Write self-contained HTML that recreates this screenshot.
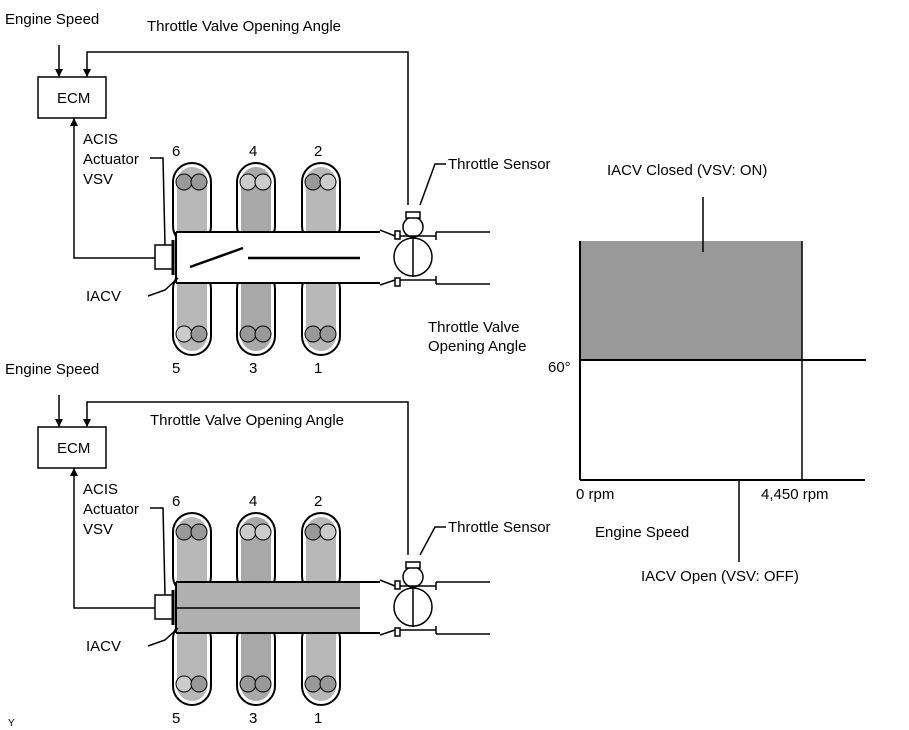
<!DOCTYPE html>
<html><head><meta charset="utf-8"><style>
body{margin:0;background:#fff}
svg{display:block}
text{font-family:"Liberation Sans",sans-serif;font-size:15px;fill:#000}
</style></head><body>
<svg width="909" height="730" viewBox="0 0 909 730" xmlns="http://www.w3.org/2000/svg">
<defs>
<marker id="ar" markerWidth="8" markerHeight="8" refX="8" refY="4" orient="auto" markerUnits="userSpaceOnUse">
<path d="M0,0 L8,4 L0,8 Z" fill="#000"/></marker>
<g id="runners">
<g stroke="#000" stroke-width="2" fill="#fff">
<rect x="173" y="163" width="38" height="82" rx="19"/>
<rect x="237" y="163" width="38" height="82" rx="19"/>
<rect x="302" y="163" width="38" height="82" rx="19"/>
<rect x="173" y="270" width="38" height="85" rx="19"/>
<rect x="237" y="270" width="38" height="85" rx="19"/>
<rect x="302" y="270" width="38" height="85" rx="19"/>
</g>
<g stroke="none">
<rect x="177" y="167" width="30" height="80" rx="15" fill="#b8b8b8"/>
<rect x="241" y="167" width="30" height="80" rx="15" fill="#a8a8a8"/>
<rect x="306" y="167" width="30" height="80" rx="15" fill="#b8b8b8"/>
<rect x="177" y="268" width="30" height="83" rx="15" fill="#b8b8b8"/>
<rect x="241" y="268" width="30" height="83" rx="15" fill="#a8a8a8"/>
<rect x="306" y="268" width="30" height="83" rx="15" fill="#b8b8b8"/>
</g>
<g fill="#999" stroke="#000" stroke-width="1">
<circle cx="184" cy="182" r="8"/><circle cx="199" cy="182" r="8"/>
<circle cx="248" cy="182" r="8" fill="#ccc"/><circle cx="263" cy="182" r="8" fill="#ccc"/>
<circle cx="313" cy="182" r="8"/><circle cx="328" cy="182" r="8" fill="#ccc"/>
<circle cx="184" cy="334" r="8" fill="#ccc"/><circle cx="199" cy="334" r="8"/>
<circle cx="248" cy="334" r="8"/><circle cx="263" cy="334" r="8"/>
<circle cx="313" cy="334" r="8"/><circle cx="328" cy="334" r="8"/>
</g>
</g>
<g id="throttle" stroke="#000" stroke-width="1.5" fill="none">
<path d="M380,230 L395,236 M380,285 L395,280"/>
<rect x="395" y="231" width="5" height="8"/><rect x="395" y="278" width="5" height="8"/>
<circle cx="413" cy="257" r="19" fill="#fff"/>
<line x1="413" y1="237" x2="413" y2="277"/>
<circle cx="413" cy="227" r="10" fill="#fff"/>
<rect x="406" y="212" width="14" height="6" fill="#fff"/>
<path d="M400,236 L436,236 M400,280 L436,280 M436,232 L490,232 M436,284 L490,284 M436,232 L436,240 M436,284 L436,276"/>
</g>
</defs>

<!-- TOP DIAGRAM -->
<text x="5" y="24">Engine Speed</text>
<text x="147" y="31">Throttle Valve Opening Angle</text>
<rect x="38" y="77" width="68" height="41" fill="#fff" stroke="#000" stroke-width="1.5"/>
<text x="57" y="103">ECM</text>
<line x1="59" y1="45" x2="59" y2="77" stroke="#000" stroke-width="1.5" marker-end="url(#ar)"/>
<polyline points="408,205 408,52 87,52 87,77" fill="none" stroke="#000" stroke-width="1.5" marker-end="url(#ar)"/>
<polyline points="158,258 74,258 74,118" fill="none" stroke="#000" stroke-width="1.5" marker-end="url(#ar)"/>
<text x="83" y="144">ACIS</text><text x="83" y="164">Actuator</text><text x="83" y="184">VSV</text>
<polyline points="150,158 163,158 165,245" fill="none" stroke="#000" stroke-width="1.5"/>
<text x="172" y="156">6</text><text x="249" y="156">4</text><text x="314" y="156">2</text>
<text x="172" y="373">5</text><text x="249" y="373">3</text><text x="314" y="373">1</text>
<use href="#runners"/>
<rect x="176" y="232" width="206" height="50" fill="#fff" stroke="none"/>
<path d="M176,232 L380,232 M176,283 L380,283" stroke="#000" stroke-width="2"/>
<line x1="176" y1="232" x2="176" y2="283" stroke="#000" stroke-width="2"/>
<rect x="155" y="245" width="18" height="24" fill="#fff" stroke="#000" stroke-width="1.5"/>
<line x1="173" y1="240" x2="173" y2="275" stroke="#000" stroke-width="3"/>
<line x1="190" y1="267" x2="243" y2="248" stroke="#000" stroke-width="2.5"/>
<line x1="248" y1="258" x2="360" y2="258" stroke="#000" stroke-width="2.5"/>
<use href="#throttle"/>
<polyline points="148,296 165,290 178,278" fill="none" stroke="#000" stroke-width="1.5"/>
<text x="86" y="301">IACV</text>
<text x="448" y="169">Throttle Sensor</text>
<polyline points="446,164 435,164 420,205" fill="none" stroke="#000" stroke-width="1.5"/>
<text x="428" y="332">Throttle Valve</text>
<text x="428" y="351">Opening Angle</text>

<!-- BOTTOM DIAGRAM -->
<g transform="translate(0,350)">
<text x="5" y="24">Engine Speed</text>
<text x="150" y="75">Throttle Valve Opening Angle</text>
<rect x="38" y="77" width="68" height="41" fill="#fff" stroke="#000" stroke-width="1.5"/>
<text x="57" y="103">ECM</text>
<line x1="59" y1="45" x2="59" y2="77" stroke="#000" stroke-width="1.5" marker-end="url(#ar)"/>
<polyline points="408,205 408,52 87,52 87,77" fill="none" stroke="#000" stroke-width="1.5" marker-end="url(#ar)"/>
<polyline points="158,258 74,258 74,118" fill="none" stroke="#000" stroke-width="1.5" marker-end="url(#ar)"/>
<text x="83" y="144">ACIS</text><text x="83" y="164">Actuator</text><text x="83" y="184">VSV</text>
<polyline points="150,158 163,158 165,245" fill="none" stroke="#000" stroke-width="1.5"/>
<text x="172" y="156">6</text><text x="249" y="156">4</text><text x="314" y="156">2</text>
<text x="172" y="373">5</text><text x="249" y="373">3</text><text x="314" y="373">1</text>
<use href="#runners"/>
<rect x="176" y="232" width="206" height="50" fill="#b0b0b0" stroke="none"/>
<rect x="360" y="232" width="22" height="50" fill="#fff" stroke="none"/>
<path d="M176,232 L380,232 M176,283 L380,283" stroke="#000" stroke-width="2"/>
<line x1="176" y1="232" x2="176" y2="283" stroke="#000" stroke-width="2"/>
<rect x="155" y="245" width="18" height="24" fill="#fff" stroke="#000" stroke-width="1.5"/>
<line x1="173" y1="240" x2="173" y2="275" stroke="#000" stroke-width="3"/>
<line x1="176" y1="258" x2="360" y2="258" stroke="#000" stroke-width="1.5"/>
<use href="#throttle"/>
<polyline points="148,296 165,290 178,278" fill="none" stroke="#000" stroke-width="1.5"/>
<text x="86" y="301">IACV</text>
<text x="448" y="182">Throttle Sensor</text>
<polyline points="446,177 435,177 420,205" fill="none" stroke="#000" stroke-width="1.5"/>
</g>

<!-- GRAPH -->
<rect x="580" y="241" width="222" height="119" fill="#999"/>
<line x1="802" y1="241" x2="802" y2="480" stroke="#000" stroke-width="1.5"/>
<line x1="580" y1="241" x2="580" y2="480" stroke="#000" stroke-width="2"/>
<line x1="580" y1="360" x2="866" y2="360" stroke="#000" stroke-width="2"/>
<line x1="580" y1="480" x2="865" y2="480" stroke="#000" stroke-width="2"/>
<line x1="703" y1="197" x2="703" y2="252" stroke="#000" stroke-width="1.5"/>
<line x1="739" y1="480" x2="739" y2="562" stroke="#000" stroke-width="1.5"/>
<text x="607" y="175">IACV Closed (VSV: ON)</text>
<text x="548" y="372">60°</text>
<text x="576" y="499">0 rpm</text>
<text x="761" y="499">4,450 rpm</text>
<text x="595" y="537">Engine Speed</text>
<text x="641" y="581">IACV Open (VSV: OFF)</text>
<text x="8" y="726" style="font-size:10px">Y</text>
</svg>
</body></html>
